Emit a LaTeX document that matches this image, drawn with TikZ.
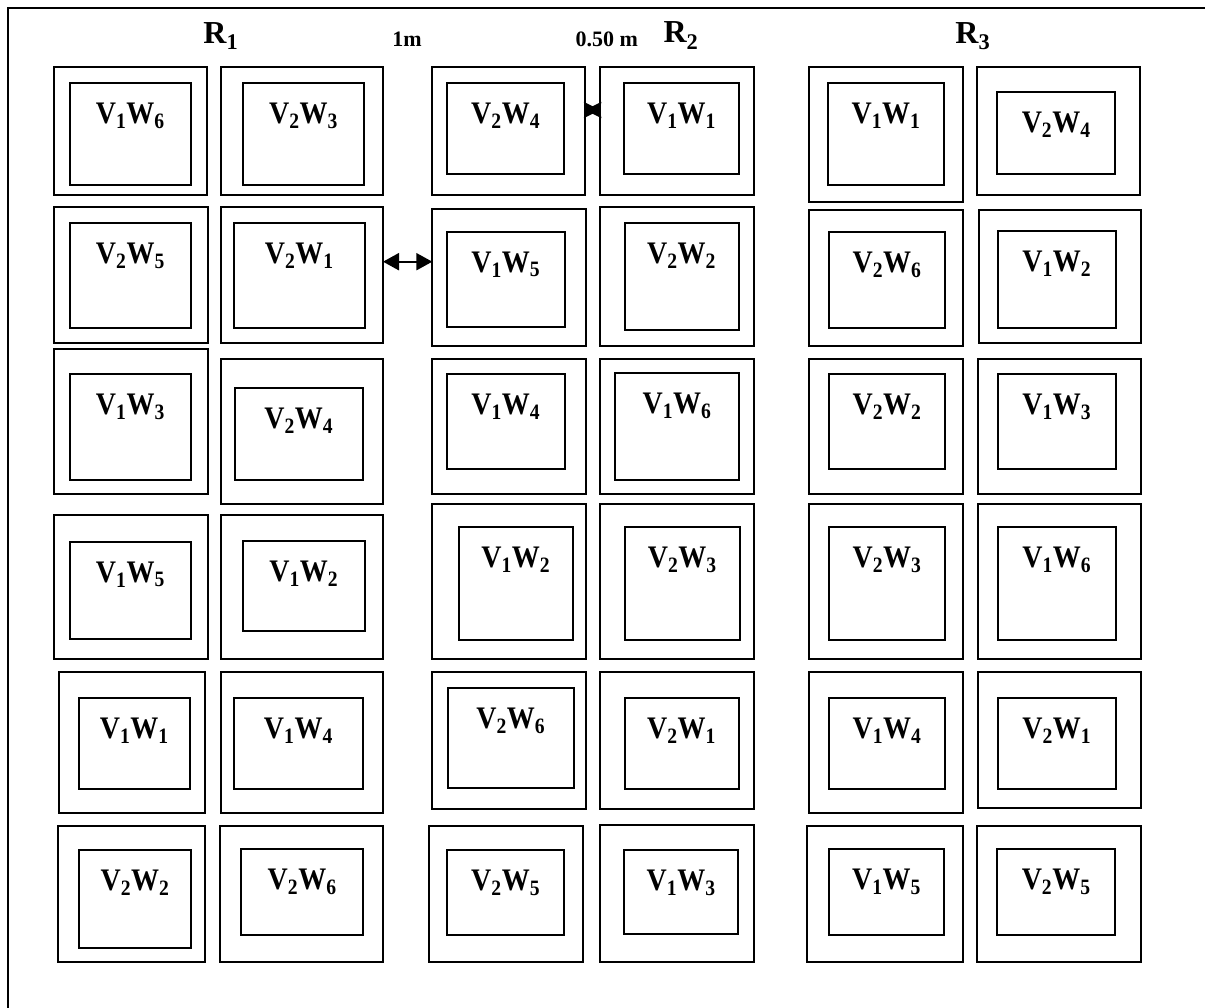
\documentclass[tikz,border=0pt]{standalone}
\usepackage{fontspec}
\setmainfont{Liberation Serif}
\usetikzlibrary{calc,arrows.meta}
\newcommand\lblfont{\fontsize{28}{30}\selectfont\bfseries}
\newcommand\headfont{\fontsize{32}{34}\selectfont\bfseries}
\newcommand\smallfont{\fontsize{22}{24}\selectfont\bfseries}
\tikzset{
  boxline/.style={draw=black,line width=2pt},
  frameline/.style={draw=black,line width=2.2pt},
  lbl/.style={anchor=base,yshift=-40.5pt,inner sep=0pt,font=\lblfont},
  rlbl/.style={anchor=base,inner sep=0pt,font=\headfont},
  dimlbl/.style={anchor=base,inner sep=0pt,font=\smallfont},
  dimarrow/.style={line width=2.2pt,{Triangle[length=16pt,width=17pt]}-{Triangle[length=16pt,width=17pt]}},
  gaparrow/.style={line width=2pt,{Stealth[length=16pt,width=16pt,inset=1.5pt]}-{Stealth[length=16pt,width=16pt,inset=1.5pt]}}
}
% name, outer corner a, outer corner b, inner corner a, inner corner b, V index, W index
\newcommand\plotcell[7]{%
  \draw[boxline] (#2) rectangle (#3);
  \draw[boxline] (#4) rectangle (#5);
  \coordinate (#1ia) at (#4);
  \coordinate (#1ib) at (#5);
  \coordinate (#1ic) at (#1ib |- #1ia);
  \node[lbl] (#1) at ($(#1ia)!0.5!(#1ic)$) {\scalebox{1}[1.12]{V\textsubscript{#6}W\textsubscript{#7}}};
}
\begin{document}
\begin{tikzpicture}[x=1pt,y=-1pt]
\useasboundingbox (0,0) rectangle (1205,1008);
\draw[frameline] (8,1012) -- (8,8.3) -- (1212,8.3);

% headings
\node[rlbl] (r1) at (220.8,43.3) {R\textsubscript{1}};
\node[rlbl] (r2) at (681,43) {R\textsubscript{2}};
\node[rlbl] (r3) at (972.8,43.3) {R\textsubscript{3}};
\node[dimlbl] (d1) at (407,46.7) {1m};
\node[dimlbl] (d2) at (606.7,46.7) {0.50 m};

% row 1
\plotcell{a1}{53.5,66.7}{207.3,195}{70,83.3}{190.7,185}{1}{6}
\plotcell{a2}{220.7,66.7}{382.7,195}{243,83.3}{364,185}{2}{3}
\plotcell{a3}{431.7,66.7}{585.3,195}{447,83.3}{564.3,174}{2}{4}
\plotcell{a4}{600,66.7}{754,195}{624.3,83.3}{738.7,174}{1}{1}
\plotcell{a5}{809,66.7}{962.7,202.3}{828.3,83.3}{943.7,185}{1}{1}
\plotcell{a6}{977.3,66.7}{1139.7,195}{997.3,91.7}{1115,174}{2}{4}

% row 2
\plotcell{b1}{53.8,207.3}{207.7,342.7}{70,223.3}{190.8,327.7}{2}{5}
\plotcell{b2}{220.8,206.7}{383,342.7}{233.8,222.7}{364.6,327.7}{2}{1}
\plotcell{b3}{432.3,209.3}{586,346}{447,231.7}{564.6,326.7}{1}{5}
\plotcell{b4}{600,207.3}{753.8,346}{624.6,223.3}{738.5,330}{2}{2}
\plotcell{b5}{809.2,210}{963,346}{828.5,231.7}{945.4,327.7}{2}{6}
\plotcell{b6}{978.5,210}{1140.8,342.7}{997.7,231}{1116,327.7}{1}{2}

% row 3
\plotcell{c1}{53.8,349.3}{207.7,494.3}{70,374.3}{190.8,480}{1}{3}
\plotcell{c2}{220.8,359}{383,504.3}{234.6,387.7}{363,480}{2}{4}
\plotcell{c3}{432,359}{586,494.3}{447,374.3}{564.6,469}{1}{4}
\plotcell{c4}{600,359}{754,494.3}{615.4,373.3}{738.5,480}{1}{6}
\plotcell{c5}{809,359}{963,494.3}{828.5,374.3}{945.4,469}{2}{2}
\plotcell{c6}{978,359}{1141,494.3}{997.7,374.3}{1116,469}{1}{3}

% row 4
\plotcell{d1c}{53.8,515}{207.7,659.3}{70,541.7}{190.8,639.3}{1}{5}
\plotcell{d2c}{220.8,515}{383,659.3}{243,541}{364.6,631}{1}{2}
\plotcell{d3c}{432,504.3}{586,659.3}{458.5,527.3}{573,640}{1}{2}
\plotcell{d4c}{600,504.3}{754,659.3}{624.6,527.3}{740,640}{2}{3}
\plotcell{d5c}{809,504.3}{963,659.3}{828.5,527.3}{945.4,640}{2}{3}
\plotcell{d6c}{978,504.3}{1141,659.3}{997.7,527.3}{1116,640}{1}{6}

% row 5
\plotcell{e1}{58.5,672.3}{205.4,812.7}{78.5,697.7}{190,789}{1}{1}
\plotcell{e2}{220.8,672.3}{383,813.3}{233.8,697.7}{363,789}{1}{4}
\plotcell{e3}{432,672.3}{586,809}{447.7,687.7}{573.8,787.7}{2}{6}
\plotcell{e4}{600,672.3}{754,809}{624.6,697.7}{738.5,789}{2}{1}
\plotcell{e5}{809,672.3}{963,812.7}{828.5,697.7}{945.4,789}{1}{4}
\plotcell{e6}{978,672.3}{1141,807.7}{997.7,697.7}{1116,789}{2}{1}

% row 6
\plotcell{f1}{58.3,826}{205.3,962}{79,850}{191,948}{2}{2}
\plotcell{f2}{219.7,826}{383.3,962}{241.3,849.3}{363,934.7}{2}{6}
\plotcell{f3}{429.3,826}{583.3,962.3}{447,850}{564.3,935}{2}{5}
\plotcell{f4}{600,825}{754.3,961.7}{624,850}{738.3,934.3}{1}{3}
\plotcell{f5}{806.7,826}{962.7,962}{828.7,849.3}{944.3,934.7}{1}{5}
\plotcell{f6}{977.3,826}{1141.3,962}{997,849.3}{1115.3,934.7}{2}{5}

% spacing arrows
\coordinate (g1a) at (383,261.7);
\coordinate (g1b) at (432.3,261.7);
\draw[dimarrow] (g1a) -- (g1b);
\coordinate (g2a) at (585.3,110);
\coordinate (g2b) at (600,110);
\draw[gaparrow] (g2a) -- (g2b);
\end{tikzpicture}
\end{document}
